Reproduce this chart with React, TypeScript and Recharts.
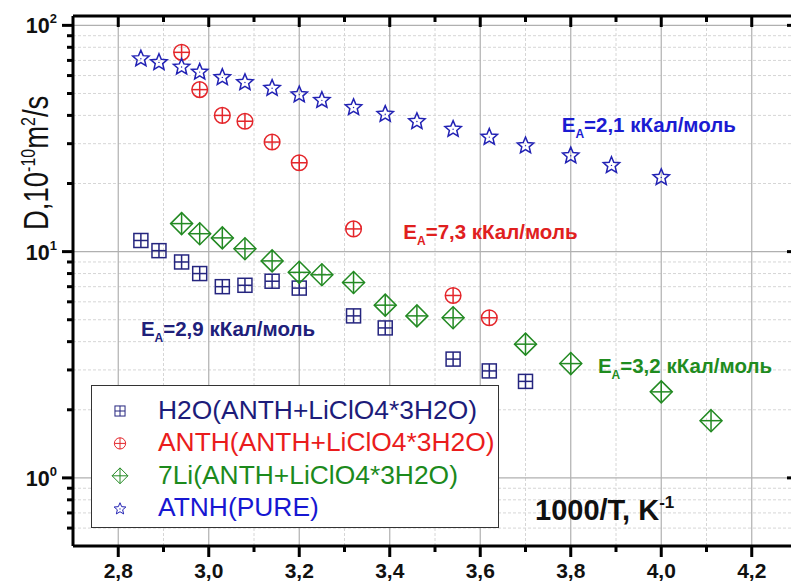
import {
  Label,
  Legend,
  ReferenceDot,
  ReferenceLine,
  Scatter,
  ScatterChart,
  XAxis,
  YAxis,
} from "recharts";

const FONT = "'Liberation Sans', Arial, Helvetica, sans-serif";

// x: 1000/T, K^-1   y: D, 10^-10 m^2/s
const H2O_X = [2.85, 2.89, 2.94, 2.98, 3.03, 3.08, 3.14, 3.2, 3.32, 3.39, 3.54, 3.62, 3.7];
const H2O_D = [11.2, 10.1, 9.0, 8.0, 7.0, 7.1, 7.4, 6.9, 5.2, 4.6, 3.35, 2.97, 2.67];

const ANTH_X = [2.94, 2.98, 3.03, 3.08, 3.14, 3.2, 3.32, 3.54, 3.62];
const ANTH_D = [76, 52, 40, 37.7, 30.5, 24.7, 12.6, 6.4, 5.1];

const LI_X = [2.94, 2.98, 3.03, 3.08, 3.14, 3.2, 3.25, 3.32, 3.39, 3.46, 3.54, 3.7, 3.8, 4.0, 4.11];
const LI_D = [13.3, 12.0, 11.5, 10.3, 9.1, 8.1, 7.9, 7.3, 5.8, 5.2, 5.1, 3.9, 3.2, 2.4, 1.79];

const PURE_X = [2.85, 2.89, 2.94, 2.98, 3.03, 3.08, 3.14, 3.2, 3.25, 3.32, 3.39, 3.46, 3.54, 3.62, 3.7, 3.8, 3.89, 4.0];
const PURE_D = [71.9, 69.3, 66.1, 62.8, 59.5, 56.5, 53.3, 49.9, 47.1, 43.8, 40.9, 38.0, 35.1, 32.4, 29.7, 26.8, 24.3, 21.5];

const MAJOR_X = [2.8, 3.0, 3.2, 3.4, 3.6, 3.8, 4.0, 4.2];
const MINOR_X = [2.9, 3.1, 3.3, 3.5, 3.7, 3.9, 4.1];
const MAJOR_Y = [1, 10, 100];
const MINOR_Y = [0.6, 0.7, 0.8, 0.9, 2, 3, 4, 5, 6, 7, 8, 9, 20, 30, 40, 50, 60, 70, 80, 90];

// activation energy notes
const NOTE_TEXT = ["=2,1 кКал/моль", "=7,3 кКал/моль", "=2,9 кКал/моль", "=3,2 кКал/моль"];
const NOTE_X = [3.78, 3.43, 2.85, 3.86];
const NOTE_D = [33.7, 11.4, 4.25, 2.92];
const NOTE_COLOR = ["#1b1bd2", "#e0201e", "#20207a", "#1f8c1f"];

const X_DOMAIN = [2.7, 4.3];
const Y_DOMAIN = [0.5, 110];

const toPoints = (xs: number[], ys: number[]) => xs.map((x, i) => ({ x, d: ys[i] }));

type Kind = "square" | "circle" | "diamond" | "star";

const SERIES: { name: string; data: { x: number; d: number }[]; color: string; text: string; kind: Kind }[] = [
  { name: "H2O(ANTH+LiClO4*3H2O)", data: toPoints(H2O_X, H2O_D), color: "#25257f", text: "#1c1c7a", kind: "square" },
  { name: "ANTH(ANTH+LiClO4*3H2O)", data: toPoints(ANTH_X, ANTH_D), color: "#e4262b", text: "#ea1c1c", kind: "circle" },
  { name: "7Li(ANTH+LiClO4*3H2O)", data: toPoints(LI_X, LI_D), color: "#238a23", text: "#1c8a1c", kind: "diamond" },
  { name: "ATNH(PURE)", data: toPoints(PURE_X, PURE_D), color: "#2222b4", text: "#1717d2", kind: "star" },
];

const X_TICKS = [...MAJOR_X, ...MINOR_X].sort((a, b) => a - b);
const Y_TICKS = [...MINOR_Y, ...MAJOR_Y].sort((a, b) => a - b);

const isMajor = (list: number[], v: number) => list.some((m) => Math.abs(m - v) < 1e-6);

function Marker({ kind, cx, cy, color, s = 1, sw = 1.5 }: { kind: Kind; cx: number; cy: number; color: string; s?: number; sw?: number }) {
  if (cx == null || cy == null) return null;
  const common = { stroke: color, strokeWidth: sw, fill: "none" };
  if (kind === "square") {
    const h = 7 * s;
    return (
      <g {...common}>
        <rect x={cx - h} y={cy - h} width={2 * h} height={2 * h} />
        <line x1={cx - h} y1={cy} x2={cx + h} y2={cy} />
        <line x1={cx} y1={cy - h} x2={cx} y2={cy + h} />
      </g>
    );
  }
  if (kind === "circle") {
    const r = 7.8 * s;
    return (
      <g {...common}>
        <circle cx={cx} cy={cy} r={r} />
        <line x1={cx - r} y1={cy} x2={cx + r} y2={cy} />
        <line x1={cx} y1={cy - r} x2={cx} y2={cy + r} />
      </g>
    );
  }
  if (kind === "diamond") {
    const h = 11 * s;
    return (
      <g {...common}>
        <polygon points={`${cx},${cy - h} ${cx + h},${cy} ${cx},${cy + h} ${cx - h},${cy}`} />
        <line x1={cx - h} y1={cy} x2={cx + h} y2={cy} />
        <line x1={cx} y1={cy - h} x2={cx} y2={cy + h} />
      </g>
    );
  }
  const R = 8.6 * s;
  const r = 3.9 * s;
  const pts: string[] = [];
  for (let i = 0; i < 10; i++) {
    const a = -Math.PI / 2 + (i * Math.PI) / 5;
    const rr = i % 2 === 0 ? R : r;
    pts.push(`${cx + rr * Math.cos(a)},${cy + 1 * s + rr * Math.sin(a)}`);
  }
  return (
    <g {...common}>
      <polygon points={pts.join(" ")} strokeLinejoin="miter" />
      <circle cx={cx} cy={cy + 1 * s} r={0.7} fill={color} stroke="none" />
    </g>
  );
}

function BottomTick({ x, y, payload }: any) {
  const major = isMajor(MAJOR_X, payload.value);
  return (
    <g>
      <line x1={x} y1={y} x2={x} y2={y + (major ? 11 : 6)} stroke="#000" strokeWidth={3} />
      {major && (
        <text x={x} y={y + 32} textAnchor="middle" fontFamily={FONT} fontWeight="bold" fontSize={21} fill="#111">
          {payload.value.toFixed(1).replace(".", ",")}
        </text>
      )}
    </g>
  );
}

function TopTick({ x, y, payload }: any) {
  const major = isMajor(MAJOR_X, payload.value);
  return <line x1={x} y1={y} x2={x} y2={y + (major ? 11 : 6)} stroke="#000" strokeWidth={3} />;
}

function LeftTick({ x, y, payload }: any) {
  const major = isMajor(MAJOR_Y, payload.value);
  const exp = Math.round(Math.log10(payload.value));
  return (
    <g>
      <line x1={x} y1={y} x2={x - (major ? 11 : 6)} y2={y} stroke="#000" strokeWidth={3} />
      {major && (
        <text x={x - 16} y={y + 8} textAnchor="end" fontFamily={FONT} fontWeight="bold" fontSize={21.5} fill="#111">
          10
          <tspan dy={-10} fontSize={13}>
            {exp}
          </tspan>
        </text>
      )}
    </g>
  );
}

function RightTick({ x, y, payload }: any) {
  const major = isMajor(MAJOR_Y, payload.value);
  return <line x1={x} y1={y} x2={x - (major ? 10 : 6)} y2={y} stroke="#000" strokeWidth={3} />;
}

function YTitle() {
  // pinned at the "D" end, reading upwards; glyphs a little taller than wide
  return (
    <text
      x={0}
      y={0}
      transform="translate(48, 230) scale(1.27, 1) rotate(-90)"
      textAnchor="start"
      fontFamily={FONT}
      fontSize={27.5}
      fill="#111"
    >
      D,10
      <tspan dy={-10} fontSize={16}>
        -10
      </tspan>
      <tspan dy={10}>m</tspan>
      <tspan dy={-10} fontSize={16}>
        2
      </tspan>
      <tspan dy={10}>/s</tspan>
    </text>
  );
}

function XTitle({ viewBox }: any) {
  const x = viewBox.x + 462;
  const y = viewBox.y - 26;
  return (
    <text x={x} y={y} fontFamily={FONT} fontWeight="bold" fontSize={29} fill="#111">
      1000/T, K
      <tspan dy={-12} fontSize={17}>
        -1
      </tspan>
    </text>
  );
}

function Note({ cx, cy, text, color }: any) {
  return (
    <text x={cx} y={cy} fontFamily={FONT} fontWeight="bold" fontSize={20.5} fill={color}>
      E
      <tspan dy={6} fontSize={12}>
        A
      </tspan>
      <tspan dy={-6}>{text}</tspan>
    </text>
  );
}

function LegendBox() {
  return (
    <div style={{ width: 408, height: 143, background: "#fff", border: "1.5px solid #333", boxSizing: "border-box" }}>
      <svg width={405} height={140} style={{ overflow: "visible" }}>
        {SERIES.map((s, i) => {
          const base = 33 + i * 32.4;
          return (
            <g key={s.name}>
              <Marker kind={s.kind} cx={28} cy={base - 8} color={s.color} s={0.72} sw={1} />
              <text x={66} y={base} fontFamily={FONT} fontSize={26.4} fill={s.text}>
                {s.name}
              </text>
            </g>
          );
        })}
      </svg>
    </div>
  );
}

export default function App() {
  return (
    <div
      style={{ position: "absolute", left: 0, top: 0, width: 791, height: 584, overflow: "hidden", background: "#fff" }}
    >
      <ScatterChart width={798} height={584} margin={{ top: 15, right: 0, left: 0, bottom: 0 }}>
        <XAxis
          type="number"
          dataKey="x"
          domain={X_DOMAIN}
          allowDataOverflow
          ticks={X_TICKS}
          interval={0}
          height={38}
          tickSize={0}
          tickMargin={0}
          tickLine={false}
          tick={BottomTick}
          axisLine={{ stroke: "#000", strokeWidth: 3 }}
        >
          <Label content={XTitle} />
        </XAxis>
        <XAxis
          xAxisId="top"
          orientation="top"
          type="number"
          dataKey="x"
          domain={X_DOMAIN}
          allowDataOverflow
          ticks={X_TICKS}
          interval={0}
          height={1}
          tickSize={0}
          tickMargin={0}
          tickLine={false}
          tick={TopTick}
          axisLine={{ stroke: "#000", strokeWidth: 3 }}
        />
        <YAxis
          type="number"
          dataKey="d"
          scale="log"
          domain={Y_DOMAIN}
          allowDataOverflow
          ticks={Y_TICKS}
          interval={0}
          width={73}
          tickSize={0}
          tickMargin={0}
          tickLine={false}
          tick={LeftTick}
          axisLine={{ stroke: "#000", strokeWidth: 3 }}
        >
          <Label content={YTitle} />
        </YAxis>
        <YAxis
          yAxisId="right"
          orientation="right"
          type="number"
          dataKey="d"
          scale="log"
          domain={Y_DOMAIN}
          allowDataOverflow
          ticks={Y_TICKS}
          interval={0}
          width={1}
          tickSize={0}
          tickMargin={0}
          tickLine={false}
          tick={RightTick}
          axisLine={{ stroke: "#000", strokeWidth: 3 }}
        />

        {MINOR_X.map((v) => (
          <ReferenceLine key={`mx${v}`} x={v} stroke="#d6d6d6" strokeDasharray="3 2" />
        ))}
        {MINOR_Y.map((v) => (
          <ReferenceLine key={`my${v}`} y={v} stroke="#d6d6d6" strokeDasharray="3 2" />
        ))}
        {MAJOR_X.map((v) => (
          <ReferenceLine key={`Mx${v}`} x={v} stroke="#b0b0b0" strokeWidth={1.2} />
        ))}
        {MAJOR_Y.map((v) => (
          <ReferenceLine key={`My${v}`} y={v} stroke="#b0b0b0" strokeWidth={1.2} />
        ))}

        {SERIES.map((s) => (
          <Scatter
            key={s.name}
            name={s.name}
            data={s.data}
            isAnimationActive={false}
            shape={(p: any) => <Marker kind={s.kind} cx={p.cx} cy={p.cy} color={s.color} />}
          />
        ))}

        {NOTE_TEXT.map((t, i) => (
          <ReferenceDot
            key={t}
            x={NOTE_X[i]}
            y={NOTE_D[i]}
            r={0}
            shape={(p: any) => <Note cx={p.cx} cy={p.cy} text={t} color={NOTE_COLOR[i]} />}
          />
        ))}

        <Legend
          layout="horizontal"
          verticalAlign="middle"
          align="center"
          content={LegendBox}
          wrapperStyle={{ left: 91, top: 385, width: 408, height: 143 }}
        />
      </ScatterChart>
    </div>
  );
}
